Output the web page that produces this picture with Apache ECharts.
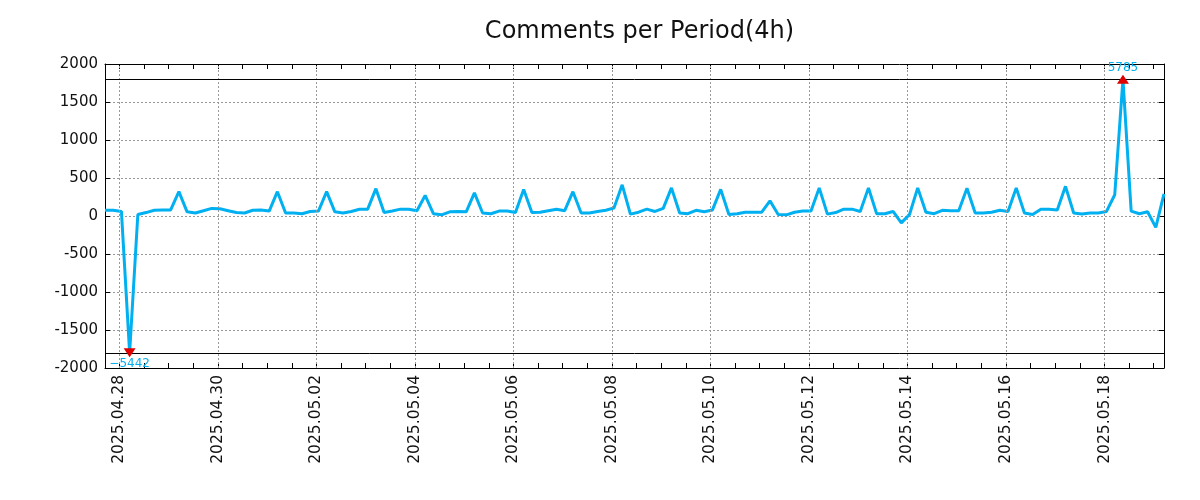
<!DOCTYPE html>
<html>
<head>
<meta charset="utf-8">
<script src="https://cdn.jsdelivr.net/npm/echarts@6/dist/echarts.min.js"></script>
<style>
html,body{margin:0;padding:0;background:#fff;}
#c{width:1200px;height:500px;}
</style>
</head>
<body>
<div id="c"></div>
<script>
// ---- data ----
const titleText = 'Comments per Period(4h)';
const firstPeriod = '2025-04-27T17:00:00Z';   // first 4h period
const periodHours = 4;
const comments = [
  75, 75, 60, -5442, 20, 45, 75, 80, 80, 320,
  55, 40, 70, 100, 95, 70, 45, 40, 75, 80,
  65, 320, 40, 40, 30, 60, 65, 320, 55, 40,
  60, 88, 90, 360, 45, 65, 90, 90, 70, 270,
  30, 15, 55, 60, 55, 305, 40, 30, 65, 65,
  45, 350, 45, 50, 70, 90, 70, 320, 40, 40,
  60, 75, 105, 410, 25, 50, 90, 60, 100, 370,
  40, 30, 75, 55, 80, 350, 20, 30, 50, 50,
  50, 200, 20, 15, 50, 65, 65, 370, 25, 45,
  90, 90, 60, 370, 30, 30, 60, -90, 20, 370,
  50, 30, 75, 70, 70, 365, 40, 40, 50, 75,
  60, 370, 40, 20, 90, 90, 80, 390, 40, 25,
  40, 40, 60, 280, 5785, 65, 30, 55, -150, 290
];
const dateTickLabels = ['2025.04.28','2025.04.30','2025.05.02','2025.05.04','2025.05.06',
  '2025.05.08','2025.05.10','2025.05.12','2025.05.14','2025.05.16','2025.05.18'];
const clipLevel = 1800;

// ---- derived ----
const H = 3600 * 1000;
const t0 = Date.parse(firstPeriod);
const times = comments.map((_, i) => t0 + i * periodHours * H);
const tMin = times[0], tMax = times[times.length - 1];
const majorTicks = dateTickLabels.map(s => Date.parse(s.replace(/\./g, '-') + 'T00:00:00Z'));
const minorTicks = [];
for (let t = majorTicks[0]; t <= tMax; t += 12 * H) minorTicks.push(t);
const pad = n => (n < 10 ? '0' : '') + n;
const fmtDate = v => { const d = new Date(v); return d.getUTCFullYear() + '.' + pad(d.getUTCMonth() + 1) + '.' + pad(d.getUTCDate()); };

const lineData = comments.map((v, i) => [times[i], Math.max(-clipLevel, Math.min(clipLevel, v))]);
let iMax = 0, iMin = 0;
comments.forEach((v, i) => { if (v > comments[iMax]) iMax = i; if (v < comments[iMin]) iMin = i; });

const lineColor = '#00b0f0';
const font = 'DejaVu Sans';
const gridLeft = 105, gridRight = 36;
const axisCommon = {
  type: 'value', min: tMin, max: tMax,
  axisLine: { show: true, onZero: false, lineStyle: { color: '#000', width: 1 } },
  axisTick: { show: true, inside: true, length: 5, customValues: minorTicks, lineStyle: { color: '#000' } },
  splitLine: { show: false }
};

const chart = echarts.init(document.getElementById('c'), null, { renderer: 'canvas' });
chart.setOption({
  animation: false,
  backgroundColor: '#fff',
  title: { text: titleText, left: gridLeft + (1200 - gridLeft - gridRight) / 2, textAlign: 'center', top: 15,
    textStyle: { fontFamily: font, fontSize: 24, fontWeight: 'normal', color: '#111' } },
  grid: { left: gridLeft, right: gridRight, top: 64, bottom: 132, containLabel: false },
  xAxis: [
    Object.assign({}, axisCommon, { position: 'bottom',
      axisLabel: { show: true, customValues: majorTicks, rotate: 90, margin: 7,
        formatter: v => fmtDate(v), fontFamily: font, fontSize: 15.5, color: '#111' } }),
    Object.assign({}, axisCommon, { position: 'top', axisLabel: { show: false } })
  ],
  yAxis: [
    { type: 'value', min: -2000, max: 2000, interval: 500, position: 'left',
      axisLine: { show: true, lineStyle: { color: '#000' } },
      axisTick: { show: true, inside: true, length: 5, lineStyle: { color: '#000' } },
      axisLabel: { fontFamily: font, fontSize: 15, color: '#111', margin: 7, formatter: v => String(v) },
      splitLine: { show: true, lineStyle: { color: '#999', type: [2, 2], width: 1 } } },
    { type: 'value', min: -2000, max: 2000, interval: 500, position: 'right',
      axisLine: { show: true, lineStyle: { color: '#000' } },
      axisTick: { show: true, inside: true, length: 5, lineStyle: { color: '#000' } },
      axisLabel: { show: false }, splitLine: { show: false } }
  ],
  series: [
    { type: 'line', name: 'grid', data: [], xAxisIndex: 0, yAxisIndex: 0, z: 1,
      markLine: { silent: true, symbol: 'none', animation: false, label: { show: false },
        lineStyle: { color: '#999', type: [2, 2], width: 1 },
        data: majorTicks.map(t => ({ xAxis: t })) } },
    { type: 'line', name: 'comments', data: lineData, xAxisIndex: 0, yAxisIndex: 0, z: 3,
      showSymbol: false, symbol: 'none', lineStyle: { color: lineColor, width: 3 },
      itemStyle: { color: lineColor },
      markLine: { silent: true, symbol: 'none', animation: false, label: { show: false },
        lineStyle: { color: '#000', type: 'solid', width: 1 },
        data: [{ yAxis: clipLevel }, { yAxis: -clipLevel }] },
      markPoint: { animation: false, silent: true,
        data: [
          { coord: [times[iMax], clipLevel], symbol: 'triangle', symbolSize: [12, 9],
            itemStyle: { color: '#e00000' },
            label: { show: true, position: 'top', distance: 1, formatter: String(comments[iMax]),
              color: lineColor, fontFamily: font, fontSize: 12 } },
          { coord: [times[iMin], -clipLevel], symbol: 'triangle', symbolRotate: 180, symbolSize: [12, 9],
            itemStyle: { color: '#e00000' },
            label: { show: true, position: 'bottom', distance: 1, formatter: String(comments[iMin]).replace('-', '\u2212'),
              color: lineColor, fontFamily: font, fontSize: 12 } }
        ] } }
  ]
});
</script>
</body>
</html>
